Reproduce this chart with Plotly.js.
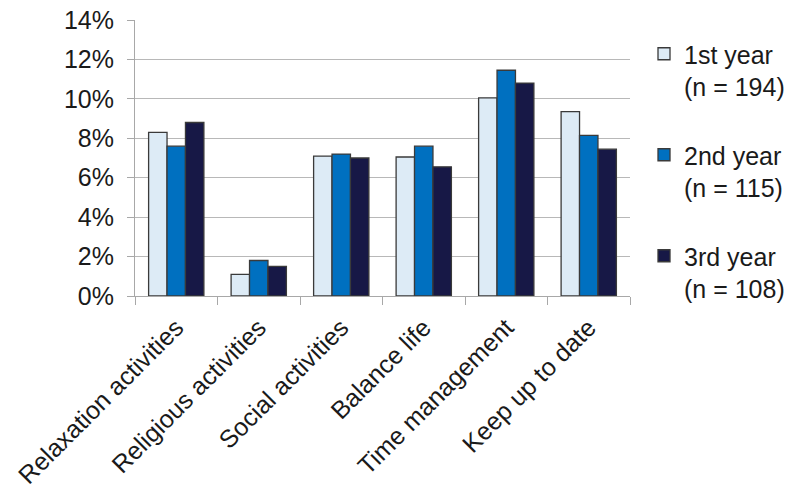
<!DOCTYPE html>
<html><head><meta charset="utf-8">
<script src="https://cdn.plot.ly/plotly-3.0.1.min.js"></script>
<style>body{margin:0;background:#fff}#c{width:791px;height:497px}</style>
</head><body><div id="c"></div>
<script>
const categories = ["Relaxation activities","Religious activities","Social activities","Balance life","Time management","Keep up to date"];
const seriesNames = ["1st year<br>(n = 194)","2nd year<br>(n = 115)","3rd year<br>(n = 108)"];
const year1 = [8.3, 1.1, 7.1, 7.05, 10.05, 9.35];
const year2 = [7.6, 1.8, 7.2, 7.6, 11.45, 8.15];
const year3 = [8.8, 1.5, 7.0, 6.55, 10.8, 7.45];
const yTicks = [0,2,4,6,8,10,12,14];
const colors = ["#ddebf6","#0070c0","#171846"];
const vals = [year1, year2, year3];
const traces = vals.map((v,i)=>({
  type:"bar", x:categories, y:v, name:seriesNames[i], legendgroup:"g"+i,
  marker:{color:colors[i], line:{color:"#3a3a3a", width:1.3}}
}));
Plotly.newPlot("c", traces, {
  width:791, height:497,
  margin:{l:135, r:161, t:20, b:201},
  paper_bgcolor:"#fff", plot_bgcolor:"#fff",
  font:{family:"Liberation Sans, Arial, sans-serif", color:"#1a1a1a"},
  barmode:"group", bargap:0.33, bargroupgap:0,
  showlegend:true,
  legend:{xref:"container", yref:"container", x:644/791, y:1-31/497, xanchor:"left", yanchor:"top",
          font:{size:25, color:"#1a1a1a"}, tracegroupgap:33, itemwidth:30, valign:"top", bgcolor:"rgba(0,0,0,0)", maxheight:450},
  xaxis:{automargin:false, tickangle:-45, tickfont:{size:25, color:"#1a1a1a"}, showline:true, linecolor:"#a8a8a8", ticks:"outside", tickson:"boundaries", ticklen:8, tickcolor:"#a8a8a8", showgrid:false, ticklabelstandoff:6},
  yaxis:{automargin:false, range:[0,14], tickvals:yTicks, ticktext:yTicks.map(t=>t+"%"), tickfont:{size:25, color:"#1a1a1a"}, showline:true, linecolor:"#a8a8a8", ticks:"outside", ticklen:7, tickcolor:"#a8a8a8", gridcolor:"#b8b8b8", gridwidth:1, zeroline:false, ticklabelstandoff:8}
}, {displayModeBar:false, staticPlot:true});
</script></body></html>
